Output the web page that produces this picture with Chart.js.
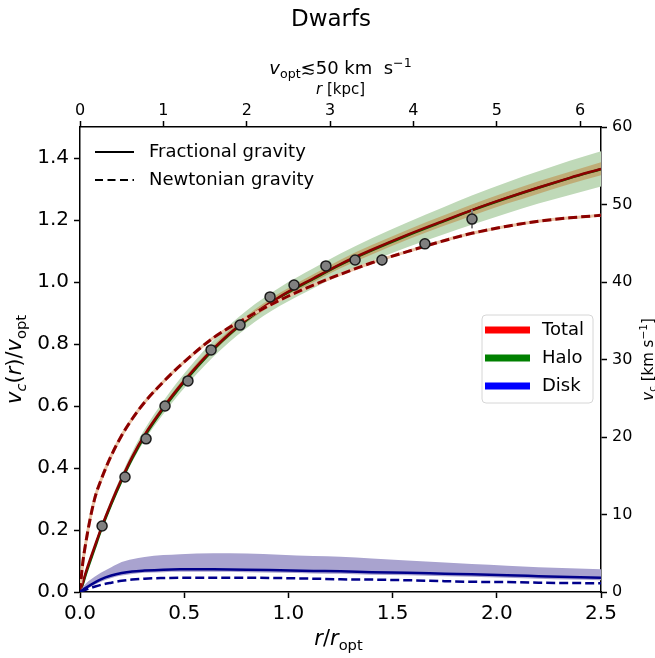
<!DOCTYPE html>
<html><head><meta charset="utf-8">
<script src="https://cdn.jsdelivr.net/npm/chart.js@4/dist/chart.umd.min.js"></script>
<style>html,body{margin:0;padding:0;background:#fff}#wrap{width:655px;height:658px;position:relative}</style>
</head><body><div id="wrap"><canvas id="c" width="655" height="658"></canvas></div>
<script>
// ---- observed data (r/r_opt, v_c/v_opt, error) ----
const obsX   = [0.106, 0.216, 0.317, 0.408, 0.518, 0.629, 0.768, 0.912, 1.027, 1.180, 1.320, 1.449, 1.655, 1.881];
const obsY   = [0.213, 0.371, 0.494, 0.600, 0.681, 0.781, 0.861, 0.952, 0.990, 1.052, 1.071, 1.071, 1.123, 1.203];
const obsErr = [0.005, 0.012, 0.005, 0.006, 0.005, 0.005, 0.005, 0.005, 0.005, 0.005, 0.005, 0.018, 0.006, 0.030];

// ---- model curves sampled at rx ----
const rx        = [0, 0.01, 0.03, 0.07, 0.10, 0.15, 0.20, 0.25, 0.31, 0.40, 0.48, 0.64, 0.80, 0.96, 1.12, 1.25, 1.40, 1.57, 1.75, 1.88, 2.05, 2.20, 2.35, 2.50];
const totalFrac = [0, 0.022, 0.068, 0.146, 0.203, 0.288, 0.365, 0.435, 0.507, 0.595, 0.665, 0.785, 0.880, 0.953, 1.012, 1.058, 1.104, 1.152, 1.199, 1.232, 1.272, 1.305, 1.336, 1.365];
const haloFrac  = [0, 0.018, 0.062, 0.140, 0.198, 0.283, 0.360, 0.430, 0.502, 0.591, 0.661, 0.782, 0.877, 0.951, 1.010, 1.056, 1.102, 1.150, 1.197, 1.231, 1.271, 1.304, 1.335, 1.364];
const totLow    = [0, 0.021, 0.066, 0.142, 0.199, 0.283, 0.360, 0.429, 0.501, 0.587, 0.656, 0.775, 0.869, 0.941, 0.999, 1.044, 1.089, 1.136, 1.182, 1.214, 1.253, 1.285, 1.316, 1.344];
const totHigh   = [0, 0.023, 0.070, 0.150, 0.207, 0.293, 0.370, 0.441, 0.513, 0.603, 0.674, 0.795, 0.891, 0.965, 1.025, 1.072, 1.119, 1.168, 1.216, 1.250, 1.291, 1.325, 1.356, 1.386];
const haloLow   = [0, 0.020, 0.063, 0.138, 0.193, 0.276, 0.351, 0.419, 0.489, 0.574, 0.642, 0.759, 0.852, 0.923, 0.980, 1.024, 1.067, 1.112, 1.155, 1.185, 1.222, 1.253, 1.281, 1.308];
const haloHigh  = [0, 0.024, 0.073, 0.154, 0.213, 0.300, 0.379, 0.451, 0.525, 0.616, 0.688, 0.811, 0.908, 0.983, 1.044, 1.092, 1.141, 1.192, 1.243, 1.279, 1.322, 1.357, 1.391, 1.422];
const totalNewt = [0, 0.075, 0.168, 0.300, 0.360, 0.440, 0.505, 0.558, 0.612, 0.678, 0.730, 0.820, 0.885, 0.942, 0.990, 1.025, 1.062, 1.098, 1.134, 1.157, 1.180, 1.196, 1.207, 1.215];
const diskFrac  = [0, 0.005, 0.014, 0.030, 0.041, 0.053, 0.061, 0.066, 0.069, 0.072, 0.073, 0.073, 0.072, 0.070, 0.068, 0.067, 0.064, 0.062, 0.059, 0.057, 0.054, 0.051, 0.048, 0.046];
const diskLow   = [0, 0.003, 0.009, 0.023, 0.033, 0.045, 0.053, 0.058, 0.062, 0.064, 0.065, 0.065, 0.064, 0.062, 0.060, 0.059, 0.056, 0.054, 0.051, 0.049, 0.046, 0.043, 0.040, 0.038];
const diskHigh  = [0, 0.012, 0.028, 0.049, 0.062, 0.080, 0.097, 0.106, 0.113, 0.119, 0.122, 0.125, 0.124, 0.120, 0.116, 0.114, 0.108, 0.102, 0.095, 0.090, 0.085, 0.080, 0.077, 0.073];
const diskNewt  = [0, 0.004, 0.008, 0.017, 0.023, 0.030, 0.036, 0.040, 0.043, 0.045, 0.046, 0.046, 0.046, 0.045, 0.043, 0.041, 0.040, 0.038, 0.035, 0.033, 0.032, 0.030, 0.029, 0.028];

// ---- ticks ----
const xTicks   = [0, 0.5, 1.0, 1.5, 2.0, 2.5];
const yTicks   = [0, 0.2, 0.4, 0.6, 0.8, 1.0, 1.2, 1.4];
const kpcTicks = [0, 1, 2, 3, 4, 5, 6];
const vTicks   = [0, 10, 20, 30, 40, 50, 60];
const xMax = 2.5, yMax = 1.5, kpcMax = 6.25, vMax = 60;

const FONT = '"DejaVu Sans", sans-serif';
const pts = (xs, ys) => xs.map((x, i) => ({x: x, y: ys[i]}));

function curve(ys, color, width, extra) {
  return Object.assign({
    data: pts(rx, ys), borderColor: color, borderWidth: width, pointRadius: 0,
    cubicInterpolationMode: 'monotone', fill: false, xAxisID: 'x', yAxisID: 'y'
  }, extra || {});
}

const datasets = [
  curve(haloLow, 'rgba(0,0,0,0)', 0, {order: 20}),
  curve(haloHigh, 'rgba(0,0,0,0)', 0, {order: 19, fill: '-1', backgroundColor: '#bfd9b8'}),
  curve(totLow, 'rgba(0,0,0,0)', 0, {order: 18}),
  curve(totHigh, 'rgba(0,0,0,0)', 0, {order: 17, fill: '-1', backgroundColor: 'rgba(190,120,40,0.45)'}),
  curve(haloFrac, '#006400', 2.5, {order: 16}),
  curve(totalFrac, '#8b0000', 2.5, {order: 15}),
  curve(totalNewt, '#eac3a5', 3, {order: 14}),
  curve(totalNewt, '#8b0000', 3, {order: 13, borderDash: [9, 4]}),
  curve(diskLow, 'rgba(0,0,0,0)', 0, {order: 12}),
  curve(diskHigh, 'rgba(0,0,0,0)', 0, {order: 11, fill: '-1', backgroundColor: '#a9a3cf'}),
  curve(diskFrac, '#00008b', 2.5, {order: 10}),
  curve(diskNewt, '#00008b', 2.5, {order: 9, borderDash: [9, 4]}),
  {
    data: pts(obsX, obsY), showLine: false, pointRadius: 5, pointBorderWidth: 1.5,
    pointBackgroundColor: '#808080', pointBorderColor: '#1a1a1a', order: 1,
    xAxisID: 'x', yAxisID: 'y', isObs: true
  }
];

function setTicks(arr) { return function (s) { s.ticks = arr.map(v => ({value: v})); }; }
function axisCommon(size, pad, tickArr, fmt) {
  return {
    afterBuildTicks: setTicks(tickArr),
    ticks: {font: {family: FONT, size: size}, color: '#000', padding: pad, autoSkip: false,
            maxRotation: 0, minRotation: 0, callback: fmt},
    grid: {drawOnChartArea: false, drawTicks: true, tickLength: 6, tickWidth: 1.5, tickColor: '#000'},
    border: {display: true, color: '#000', width: 1.5}
  };
}

function fontFor(p, size) {
  const s = (p.sub || p.sup) ? size * 0.7 : size;
  return (p.it ? 'italic ' : '') + s + 'px ' + FONT;
}
function drawRich(ctx, parts, x, y, size, rot) {
  ctx.save();
  ctx.translate(x, y);
  if (rot) ctx.rotate(rot);
  let w = 0;
  for (const p of parts) { ctx.font = fontFor(p, size); w += ctx.measureText(p.t).width; }
  let cx = -w / 2;
  ctx.textBaseline = 'alphabetic'; ctx.textAlign = 'left'; ctx.fillStyle = '#000';
  for (const p of parts) {
    ctx.font = fontFor(p, size);
    let dy = 0;
    if (p.sub) dy = size * 0.22;
    if (p.sup) dy = -size * 0.38;
    ctx.fillText(p.t, cx, dy);
    cx += ctx.measureText(p.t).width;
  }
  ctx.restore();
}

const decor = {
  id: 'decor',
  beforeDatasetDraw(chart, args) {
    const ds = chart.data.datasets[args.index];
    if (!ds.isObs) return;
    const ctx = chart.ctx, xs = chart.scales.x, ys = chart.scales.y;
    ctx.save();
    ctx.strokeStyle = '#808080'; ctx.lineWidth = 2;
    obsX.forEach((x, i) => {
      const px = xs.getPixelForValue(x);
      ctx.beginPath();
      ctx.moveTo(px, ys.getPixelForValue(obsY[i] - obsErr[i]));
      ctx.lineTo(px, ys.getPixelForValue(obsY[i] + obsErr[i]));
      ctx.stroke();
    });
    ctx.restore();
  },
  afterDraw(chart) {
    const ctx = chart.ctx, a = chart.chartArea;
    const cx = (a.left + a.right) / 2;
    ctx.save();
    ctx.fillStyle = '#000'; ctx.textAlign = 'center'; ctx.textBaseline = 'alphabetic';
    ctx.font = '23px ' + FONT;
    ctx.fillText('Dwarfs', 331, 26);
    ctx.restore();
    drawRich(ctx, [{t: 'v', it: true}, {t: 'opt', sub: true}, {t: '\u227250 km  s'}, {t: '\u22121', sup: true}], cx, 74, 18);
    drawRich(ctx, [{t: 'r', it: true}, {t: ' [kpc]'}], cx, 94, 15);
    drawRich(ctx, [{t: 'r', it: true}, {t: '/'}, {t: 'r', it: true}, {t: 'opt', sub: true}], cx - 2, 645, 21);
    drawRich(ctx, [{t: 'v', it: true}, {t: 'c', sub: true, it: true}, {t: '('}, {t: 'r', it: true}, {t: ')/'},
                   {t: 'v', it: true}, {t: 'opt', sub: true}], 21, (a.top + a.bottom) / 2, 21, -Math.PI / 2);
    drawRich(ctx, [{t: 'v', it: true}, {t: 'c', sub: true}, {t: ' [km s'}, {t: '\u22121', sup: true}, {t: ']'}],
             653, (a.top + a.bottom) / 2, 15, -Math.PI / 2);

    // legend 1 (line styles)
    ctx.save();
    ctx.strokeStyle = '#000'; ctx.lineWidth = 2;
    ctx.beginPath(); ctx.moveTo(95, 152); ctx.lineTo(134, 152); ctx.stroke();
    ctx.setLineDash([8, 4.5]);
    ctx.beginPath(); ctx.moveTo(95, 180); ctx.lineTo(134, 180); ctx.stroke();
    ctx.setLineDash([]);
    ctx.fillStyle = '#000'; ctx.font = '18px ' + FONT; ctx.textAlign = 'left'; ctx.textBaseline = 'middle';
    ctx.fillText('Fractional gravity', 149, 152);
    ctx.fillText('Newtonian gravity', 149, 180);
    // legend 2 (components)
    const bx = 482, by = 315, bw = 111, bh = 88, r = 4;
    ctx.beginPath();
    ctx.moveTo(bx + r, by); ctx.lineTo(bx + bw - r, by); ctx.arcTo(bx + bw, by, bx + bw, by + r, r);
    ctx.lineTo(bx + bw, by + bh - r); ctx.arcTo(bx + bw, by + bh, bx + bw - r, by + bh, r);
    ctx.lineTo(bx + r, by + bh); ctx.arcTo(bx, by + bh, bx, by + bh - r, r);
    ctx.lineTo(bx, by + r); ctx.arcTo(bx, by, bx + r, by, r); ctx.closePath();
    ctx.fillStyle = 'rgba(255,255,255,0.8)'; ctx.fill();
    ctx.strokeStyle = '#d6d6d6'; ctx.lineWidth = 1; ctx.stroke();
    const items = [['Total', '#ff0000', 330], ['Halo', '#008000', 358], ['Disk', '#0000ff', 386]];
    ctx.lineWidth = 7;
    for (const [lab, col, yy] of items) {
      ctx.strokeStyle = col;
      ctx.beginPath(); ctx.moveTo(485, yy); ctx.lineTo(530, yy); ctx.stroke();
      ctx.fillStyle = '#000';
      ctx.fillText(lab, 542, yy);
    }
    ctx.restore();
  }
};

new Chart(document.getElementById('c'), {
  type: 'line',
  data: {datasets: datasets},
  plugins: [decor],
  options: {
    responsive: false, animation: false, devicePixelRatio: 1,
    layout: {padding: {top: 87, left: 0, right: 0, bottom: 0}},
    plugins: {legend: {display: false}, title: {display: false}, tooltip: {enabled: false}},
    scales: {
      x: Object.assign(axisCommon(20, 4, xTicks, v => v.toFixed(1)),
        {type: 'linear', position: 'bottom', min: 0, max: xMax, afterFit: s => { s.height = 66; }}),
      xTop: Object.assign(axisCommon(16, 1, kpcTicks, v => String(v)),
        {type: 'linear', position: 'top', min: 0, max: kpcMax, afterFit: s => { s.height = 40; }}),
      y: Object.assign(axisCommon(20, 5, yTicks, v => v.toFixed(1)),
        {type: 'linear', position: 'left', min: 0, max: yMax, afterFit: s => { s.width = 80; }}),
      y2: Object.assign(axisCommon(16, 5, vTicks, v => String(v)),
        {type: 'linear', position: 'right', min: 0, max: vMax, afterFit: s => { s.width = 54; }})
    }
  }
});
</script>
</body></html>
